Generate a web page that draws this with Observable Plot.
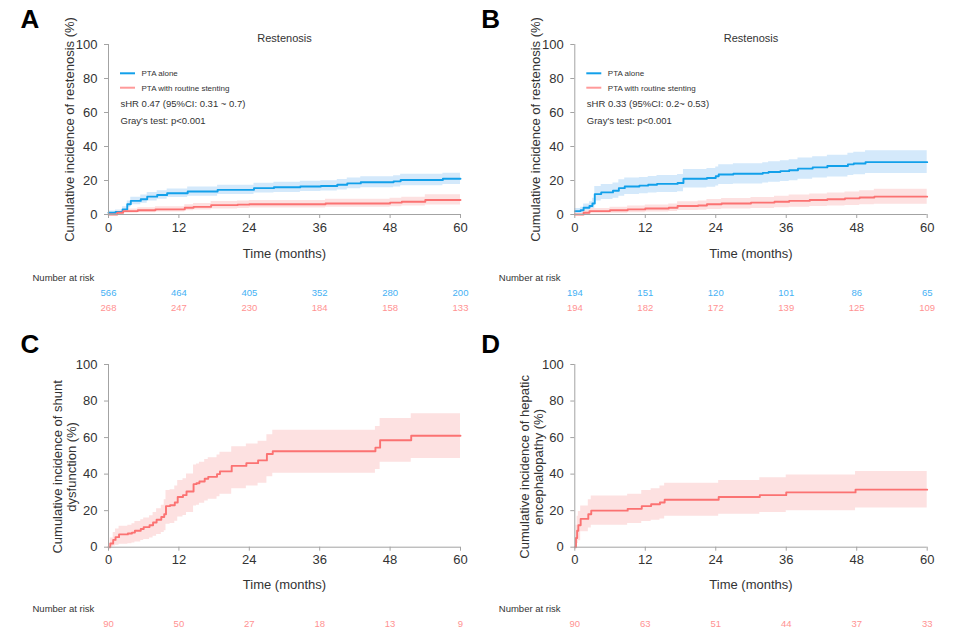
<!DOCTYPE html>
<html>
<head>
<meta charset="utf-8">
<script src="https://cdn.jsdelivr.net/npm/d3@7"></script>
<script src="https://cdn.jsdelivr.net/npm/@observablehq/plot@0.6"></script>
<style>
  html, body { margin: 0; padding: 0; background: #fff; }
  #wrap { position: relative; width: 960px; height: 628px; overflow: hidden; }
  .pan { position: absolute; }
</style>
</head>
<body>
<div id="wrap"></div>
<script>
// ---------------- DATA ----------------
const xTicks = [0, 12, 24, 36, 48, 60];
const yTicks = [0, 20, 40, 60, 80, 100];
const riskTimes = [0, 12, 24, 36, 48, 60];

// Panel A – PTA alone
const aBlueT  = [0, 1.2, 2.4, 3.2, 3.8, 5.5, 6.6, 8.3, 10, 13.5, 18.6, 24.8, 28.2, 32.7, 36.2, 39, 40.7, 43, 48.6, 49.8, 57, 60];
const aBlueY  = [1, 1.5, 3, 6, 8, 9, 10.5, 11.5, 12.5, 13.5, 14.5, 15.5, 16, 16.5, 16.8, 17.5, 18.3, 19, 19.5, 20.3, 21, 21];
const aBlueLo = [0.2, 0.5, 1.5, 4, 5.8, 6.6, 8, 9, 10, 10.8, 11.8, 12.6, 13, 13.5, 13.8, 14.4, 15.1, 15.8, 16.2, 16.9, 17.7, 17.7];
const aBlueHi = [2, 2.6, 4.5, 8, 10.2, 11.4, 13, 14, 15, 16.2, 17.2, 18.4, 19, 19.5, 19.8, 20.6, 21.5, 22.2, 22.8, 23.7, 24.3, 24.3];
// Panel A – PTA with routine stenting
const aRedT  = [0, 1.5, 2.5, 5, 8, 13, 14.5, 17.5, 22, 24, 37, 48, 50, 54, 60];
const aRedY  = [0, 1, 2, 2.5, 3, 4, 4.5, 5.5, 5.8, 6, 6.5, 7, 7.5, 8.5, 8.5];
const aRedLo = [0, 0.2, 0.8, 1.1, 1.5, 2.2, 2.6, 3.3, 3.6, 3.8, 4.2, 4.6, 5, 5.6, 5.6];
const aRedHi = [0, 2, 3.3, 4, 4.6, 5.8, 6.5, 7.6, 8, 8.3, 8.9, 9.6, 10.2, 11.6, 11.6];

// Panel B – PTA alone
const bBlueT  = [0, 1, 1.5, 2.5, 3, 3.4, 4.5, 6.5, 7.5, 8.5, 11, 12.5, 14, 17.5, 18.5, 22.5, 24, 24.5, 27, 32, 33, 35, 36.5, 38, 40.5, 43, 46.5, 47.5, 49.5, 60];
const bBlueY  = [2, 2.5, 4, 5, 6.5, 12, 13, 14, 15.5, 16.5, 17, 17.5, 18, 18.5, 21, 21.5, 22.5, 23.5, 24, 24.5, 25, 25.5, 26, 27, 27.7, 28.5, 29.5, 30, 30.8, 30.8];
const bBlueLo = [0.5, 0.8, 1.8, 2.5, 3.5, 8, 8.8, 9.6, 10.8, 11.8, 12.2, 12.6, 13, 13.4, 15.6, 16, 16.8, 17.6, 18, 18.5, 19, 19.4, 19.8, 20.8, 21.4, 22.1, 23, 23.4, 24.1, 24.1];
const bBlueHi = [3.5, 4.2, 6.2, 7.5, 9.5, 16.5, 17.6, 18.6, 20.4, 21.4, 21.8, 22.4, 23, 23.6, 26.4, 27, 28, 29.2, 29.8, 30.4, 31, 31.6, 32.2, 33.2, 34, 34.9, 36, 36.6, 37.5, 37.5];
// Panel B – PTA with routine stenting
const bRedT  = [0, 1.5, 2.5, 6, 9, 12, 16, 17.5, 21, 22.5, 25, 30, 34, 36.5, 40, 43, 46, 48.5, 51, 60];
const bRedY  = [0, 1, 2, 2.5, 3, 3.5, 4, 5, 5.3, 6, 6.5, 7, 7.5, 8, 8.5, 9, 9.5, 10, 10.5, 10.5];
const bRedLo = [0, 0.1, 0.5, 0.8, 1.1, 1.4, 1.7, 2.3, 2.5, 3, 3.3, 3.6, 4, 4.3, 4.7, 5, 5.3, 5.7, 6, 6];
const bRedHi = [0, 2.2, 3.6, 4.3, 5, 5.6, 6.2, 7.5, 7.9, 8.8, 9.4, 10, 10.8, 11.4, 12, 12.7, 13.3, 14, 14.8, 14.8];

// Panel C – shunt dysfunction
const cT  = [0, 0.3, 0.8, 1.2, 1.8, 3.3, 4, 4.5, 5.5, 6, 7, 7.6, 8.2, 9, 9.5, 9.8, 10.5, 11.3, 11.8, 12.7, 13.3, 14.5, 15, 15.5, 16.4, 17, 18.5, 19, 21, 23.5, 25.5, 27, 28, 45.5, 46.3, 51.6, 60];
const cY  = [0, 2, 4, 5.5, 7, 7.5, 8, 9, 10, 11, 12, 13.5, 15, 16.5, 18, 22.5, 23, 24.5, 27.5, 28.5, 30.5, 34.5, 35, 36, 37.5, 38.5, 40, 41.5, 44.5, 46, 47.5, 51, 52.5, 54.5, 58.5, 61, 61];
const cLo = [0, 0.2, 0.6, 1, 1.6, 1.9, 2.3, 2.9, 3.6, 4.2, 5, 6, 7, 8, 9, 12.5, 13, 14.2, 16.5, 17.4, 19, 22.5, 23, 24, 25.3, 26.2, 27.6, 29, 32, 33.5, 35, 38.5, 40.5, 42.5, 46.5, 48.5, 48.5];
const cHi = [0, 5, 8, 10, 11.5, 12, 12.8, 14, 15, 16, 17.2, 19, 21, 23, 26, 31, 31.5, 33.5, 36.5, 37.5, 40, 45, 45.5, 46.5, 48, 49, 50.5, 52, 55, 56.5, 58, 61.5, 64, 66, 70.5, 73, 73];

// Panel D – hepatic encephalopathy
const dT  = [0, 0.2, 0.4, 0.6, 1, 2.3, 2.8, 9, 11.4, 13, 14.5, 15.3, 24.5, 31.5, 36, 47.8, 60];
const dY  = [0, 5, 9, 12, 15.5, 18, 20, 21, 22.5, 23.5, 24.5, 26, 27.5, 28.5, 30, 31.5, 31.5];
const dLo = [0, 0.8, 2, 3.5, 8.5, 10.5, 12, 13, 14, 14.8, 15.5, 17, 18, 19, 20, 21.5, 21.5];
const dHi = [0, 12, 17, 19.5, 22.5, 26, 28, 29, 31, 32, 33.5, 35, 36.5, 38, 39.5, 41.5, 41.5];

// Numbers at risk
const riskAblue = [566, 464, 405, 352, 280, 200];
const riskAred  = [268, 247, 230, 184, 158, 133];
const riskBblue = [194, 151, 120, 101, 86, 65];
const riskBred  = [194, 182, 172, 139, 125, 109];
const riskC     = [90, 50, 27, 18, 13, 9];
const riskD     = [90, 63, 51, 44, 37, 33];

const legendLabels = ["PTA alone", "PTA with routine stenting"];

// ---------------- STYLE ----------------
const FONT = "'Liberation Sans', Arial, Helvetica, sans-serif";
const BLUE = "#12a0ea", BLUE_BAND = "#d4e9fb", BLUE_NUM = "#45b1f4";
const RED = "#fb7272", RED_BAND = "#fde1e1", RED_NUM = "#ff9292", RED_LEG = "#ff9a9a";
const AXIS = "#a3a3a3", TXT = "#333333";

function zip(t, y, lo, hi) { return t.map((v, i) => ({t: v, est: y[i], lo: lo[i], hi: hi[i]})); }

function legendMark(colors) {
  return (index, scales, values, dims) => {
    const ml = dims ? dims.marginLeft : 108, mt = dims ? dims.marginTop : 44;
    const g = d3.create("svg:g");
    colors.forEach((c, i) => {
      g.append("line").attr("x1", ml + 12).attr("x2", ml + 27)
        .attr("y1", mt + 29.3 + i * 14.4).attr("y2", mt + 29.3 + i * 14.4)
        .attr("stroke", c).attr("stroke-width", 2);
    });
    return g.node();
  };
}

function label(txt, opts) {
  return Plot.text([txt], Object.assign({text: d => d, lineAnchor: "middle", fill: TXT}, opts));
}

function panel(o) {
  const marks = [];
  o.series.forEach(s => {
    marks.push(Plot.areaY(s.data, {x: "t", y1: "lo", y2: "hi", curve: "step-after", fill: s.band}));
  });
  o.series.forEach(s => {
    marks.push(Plot.line(s.data, {x: "t", y: "est", curve: "step-after", stroke: s.color, strokeWidth: 1.9}));
  });
  marks.push(
    Plot.ruleY([0], {stroke: AXIS, strokeWidth: 1}),
    Plot.ruleX([0], {stroke: AXIS, strokeWidth: 1}),
    Plot.axisX({ticks: xTicks, tickSize: 4, tickPadding: 4, fontSize: 13, stroke: AXIS, fill: TXT, label: null}),
    Plot.axisY({ticks: yTicks, tickSize: 4, tickPadding: 7, fontSize: 13, stroke: AXIS, fill: TXT, label: null}),
    label("Time (months)", {frameAnchor: "bottom", textAnchor: "middle", dy: o.xLabDy, fontSize: 13}),
    label(o.yLabel, {frameAnchor: "left", textAnchor: "middle", rotate: -90, dx: o.yLabDx, dy: o.yLabDy, fontSize: 13, lineHeight: 1.08}),
    label(o.letter, {frameAnchor: "top-left", textAnchor: "start", dx: o.letDx, dy: o.letDy, fontSize: 26, fontWeight: "bold", fill: "#000"}),
    label("Number at risk", {frameAnchor: "bottom-left", textAnchor: "start", dx: -76, dy: o.riskDy, fontSize: 9.5})
  );
  o.risk.forEach((r, i) => {
    marks.push(Plot.text(riskTimes, {x: d => d, text: (d, j) => r.values[j], frameAnchor: "bottom", textAnchor: "middle", lineAnchor: "middle", dy: o.riskDy + 15 + i * 14.6, fontSize: 9.5, fill: r.color}));
  });
  if (o.title) {
    marks.push(label(o.title, {frameAnchor: "top", textAnchor: "middle", dy: -6, fontSize: 11}));
  }
  if (o.stats) {
    marks.push(legendMark([BLUE, RED_LEG]));
    legendLabels.forEach((l, i) => {
      marks.push(label(l, {frameAnchor: "top-left", textAnchor: "start", dx: 33, dy: 29.3 + i * 14.4, fontSize: 8}));
    });
    o.stats.forEach((l, i) => {
      marks.push(label(l, {frameAnchor: "top-left", textAnchor: "start", dx: 12, dy: 59.3 + i * 17.4, fontSize: 9.5}));
    });
  }
  const chart = Plot.plot({
    width: 480, height: o.h,
    marginLeft: o.ml, marginRight: o.mr, marginTop: 44, marginBottom: o.mb,
    style: {fontFamily: FONT, background: "transparent", overflow: "visible"},
    x: {domain: [0, 60], label: null},
    y: {domain: [0, 100], label: null},
    marks
  });
  const div = document.createElement("div");
  div.className = "pan";
  div.style.left = o.left + "px";
  div.style.top = o.top + "px";
  div.appendChild(chart);
  document.getElementById("wrap").appendChild(div);
}

panel({
  left: 0, top: 0, h: 320, ml: 108, mr: 20, mb: 106,
  letter: "A", letDx: -88, letDy: -24.5,
  title: "Restenosis",
  yLabel: "Cumulative incidence of restenosis (%)", yLabDx: -39, yLabDy: 0,
  xLabDy: 39, riskDy: 63.7,
  series: [
    {data: zip(aBlueT, aBlueY, aBlueLo, aBlueHi), color: BLUE, band: BLUE_BAND},
    {data: zip(aRedT, aRedY, aRedLo, aRedHi), color: RED, band: RED_BAND}
  ],
  stats: ["sHR 0.47 (95%CI: 0.31 ~ 0.7)", "Gray's test: p<0.001"],
  risk: [{values: riskAblue, color: BLUE_NUM}, {values: riskAred, color: RED_NUM}]
});

panel({
  left: 480, top: 0, h: 320, ml: 94.3, mr: 33.3, mb: 106,
  letter: "B", letDx: -93.5, letDy: -24.5,
  title: "Restenosis",
  yLabel: "Cumulative incidence of restenosis (%)", yLabDx: -39, yLabDy: 0,
  xLabDy: 39, riskDy: 63.7,
  series: [
    {data: zip(bBlueT, bBlueY, bBlueLo, bBlueHi), color: BLUE, band: BLUE_BAND},
    {data: zip(bRedT, bRedY, bRedLo, bRedHi), color: RED, band: RED_BAND}
  ],
  stats: ["sHR 0.33 (95%CI: 0.2~ 0.53)", "Gray's test: p<0.001"],
  risk: [{values: riskBblue, color: BLUE_NUM}, {values: riskBred, color: RED_NUM}]
});

panel({
  left: 0, top: 320, h: 308, ml: 108, mr: 20, mb: 81.3,
  letter: "C", letDx: -88, letDy: -20,
  title: null,
  yLabel: "Cumulative incidence of shunt\ndysfunction (%)", yLabDx: -44, yLabDy: 11,
  xLabDy: 38, riskDy: 61.7,
  series: [{data: zip(cT, cY, cLo, cHi), color: RED, band: RED_BAND}],
  stats: null,
  risk: [{values: riskC, color: RED_NUM}]
});

panel({
  left: 480, top: 320, h: 308, ml: 94.3, mr: 33.3, mb: 81.3,
  letter: "D", letDx: -93.5, letDy: -20,
  title: null,
  yLabel: "Cumulative incidence of hepatic\nencephalopathy (%)", yLabDx: -43.5, yLabDy: 11,
  xLabDy: 38, riskDy: 61.7,
  series: [{data: zip(dT, dY, dLo, dHi), color: RED, band: RED_BAND}],
  stats: null,
  risk: [{values: riskD, color: RED_NUM}]
});
</script>
</body>
</html>
